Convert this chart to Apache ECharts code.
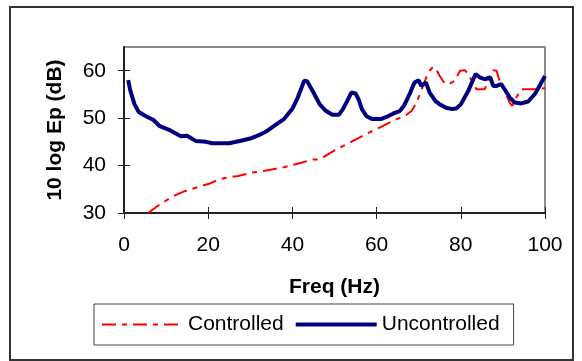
<!DOCTYPE html>
<html>
<head>
<meta charset="utf-8">
<script src="https://cdn.jsdelivr.net/npm/echarts@6/dist/echarts.min.js"></script>
<style>
  html, body { margin: 0; padding: 0; background: #fff; }
  #chart { width: 582px; height: 361px; }
</style>
</head>
<body>
<div id="chart"></div>
<script>
// values
var freqControlled = [5.7, 8.5, 11.6, 14.4, 18, 20, 22.7, 24.7, 27.1, 30.3, 34.2, 38.2, 42.1, 44.9, 46.5, 50, 54, 57.6, 60.7, 64.3, 67.1, 68.3, 69.5, 70.6, 71.8, 72.6, 73.4, 74.2, 75, 76.2, 77.4, 78.6, 79.8, 81, 81.7, 82.9, 83.7, 85.7, 86.5, 87.7, 88.5, 89.2, 90.4, 91.6, 92.2, 93.2, 94.4, 97.6, 100];
var controlled = [30, 31.8, 33.5, 34.6, 35.6, 36.1, 37.1, 37.5, 37.8, 38.5, 39, 39.7, 40.6, 41.3, 41.3, 43.2, 45, 46.7, 48, 49.6, 50.7, 51.5, 53.3, 55.8, 58.6, 60, 60.8, 60.2, 58.9, 57.3, 57.3, 57.9, 60, 60.1, 59.3, 57.5, 56.1, 56.1, 57.9, 60.1, 60, 57.9, 55.8, 53.3, 52.6, 54.4, 56.1, 56.1, 56.3];

var freqUncontrolled = [1, 1.5, 2.5, 3.5, 5, 7, 8.5, 11, 13.5, 15, 17, 19.5, 21, 25, 28, 30, 32, 34, 36, 38, 40, 41.3, 42.8, 43.5, 45, 46.5, 48, 49.5, 51, 52, 53, 54, 55, 55.7, 56.5, 57.6, 59, 61, 62.5, 64, 65.5, 66.5, 68, 69, 70, 70.6, 71.7, 72.6, 74, 75, 76.5, 78, 79, 80, 81.7, 83.5, 84.5, 85.7, 87, 87.7, 88.5, 89.6, 90.4, 91.6, 92.8, 94.4, 96, 97.6, 98.7, 100];
var uncontrolled = [58, 55.8, 52.9, 51.3, 50.5, 49.6, 48.3, 47.4, 46.2, 46.3, 45.2, 45, 44.7, 44.7, 45.3, 45.7, 46.4, 47.3, 48.6, 49.8, 52, 54.4, 57.9, 57.8, 55.4, 52.9, 51.5, 50.7, 50.7, 51.9, 53.6, 55.4, 55.2, 54, 51.9, 50.4, 49.8, 49.8, 50.3, 51, 51.5, 52.6, 55.4, 57.5, 58, 56.8, 57.5, 55.4, 53.6, 52.9, 52.2, 51.9, 52.1, 52.9, 55.6, 59.3, 58.6, 58.2, 58.6, 56.8, 56.8, 57.2, 56.1, 54.4, 53.3, 53.1, 53.5, 55.1, 56.8, 58.9];

var xTicks = [0, 20, 40, 60, 80, 100];
var yTicks = [30, 40, 50, 60];
var yMax = 65;

function pairs(xs, ys) {
  return xs.map(function (x, i) { return [x, ys[i]]; });
}

var font = 'Liberation Sans, Arial, sans-serif';
var chart = echarts.init(document.getElementById('chart'));

var option = {
  animation: false,
  backgroundColor: '#fff',
  textStyle: { fontFamily: font },
  graphic: [{
    type: 'rect',
    shape: { x: 10, y: 7, width: 563, height: 353 },
    style: { fill: 'none', stroke: '#333', lineWidth: 2 },
    silent: true
  }],
  grid: {
    left: 124, right: 37, top: 47, bottom: 148,
    show: true, borderColor: '#8c8c8c', borderWidth: 2
  },
  legend: {
    left: 94, top: 304,
    padding: [10, 14, 10, 7],
    itemGap: 10,
    itemWidth: 81,
    itemHeight: 14,
    borderColor: '#444',
    borderWidth: 1,
    textStyle: { fontSize: 21, color: '#000', fontFamily: font },
    data: [
      { name: 'Controlled', lineStyle: { width: 2 }, itemStyle: { opacity: 0 } },
      { name: 'Uncontrolled', lineStyle: { width: 4 }, itemStyle: { opacity: 0 } }
    ]
  },
  xAxis: [{
    type: 'value',
    min: xTicks[0], max: xTicks[xTicks.length - 1], interval: 20,
    name: 'Freq (Hz)',
    nameLocation: 'middle',
    nameGap: 64,
    nameTextStyle: { fontSize: 21, fontWeight: 'bold', color: '#000', fontFamily: font },
    axisLine: { lineStyle: { color: '#222', width: 2 } },
    axisTick: { length: 6, lineStyle: { color: '#222' } },
    axisLabel: { fontSize: 21, color: '#000', margin: 22, fontFamily: font },
    splitLine: { show: false }
  }, {
    type: 'value', position: 'bottom',
    min: xTicks[0], max: xTicks[xTicks.length - 1], interval: 20,
    axisLine: { show: false },
    axisTick: { inside: true, length: 6, lineStyle: { color: '#222' } },
    axisLabel: { show: false },
    splitLine: { show: false }
  }],
  yAxis: [{
    type: 'value',
    min: yTicks[0], max: yMax,
    name: '10 log Ep (dB)',
    nameLocation: 'middle',
    nameGap: 58,
    nameTextStyle: { fontSize: 21, fontWeight: 'bold', color: '#000', fontFamily: font },
    axisLine: { show: true, lineStyle: { color: '#222', width: 2 } },
    axisTick: { show: true, length: 6, customValues: yTicks, lineStyle: { color: '#222' } },
    axisLabel: { fontSize: 21, color: '#000', margin: 18, fontFamily: font, customValues: yTicks },
    splitLine: { show: false }
  }, {
    type: 'value', position: 'left',
    min: yTicks[0], max: yMax,
    axisLine: { show: false },
    axisTick: { show: true, inside: true, length: 6, customValues: yTicks, lineStyle: { color: '#222' } },
    axisLabel: { show: false },
    splitLine: { show: false }
  }],
  series: [
    {
      name: 'Controlled',
      type: 'line',
      symbol: 'none',
      lineStyle: { color: '#ff0000', width: 2, type: [14, 6, 5, 6] },
      itemStyle: { color: '#ff0000' },
      data: pairs(freqControlled, controlled)
    },
    {
      name: 'Uncontrolled',
      type: 'line',
      symbol: 'none',
      lineStyle: { color: '#000080', width: 4 },
      itemStyle: { color: '#000080' },
      data: pairs(freqUncontrolled, uncontrolled)
    }
  ]
};
chart.setOption(option);
</script>
</body>
</html>
